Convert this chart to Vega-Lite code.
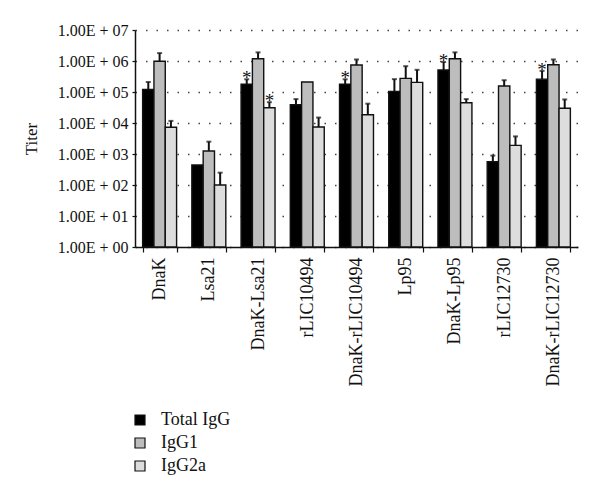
{
  "$schema": "https://vega.github.io/schema/vega-lite/v6.json",
  "width": 443,
  "height": 217,
  "autosize": {"type": "none"},
  "padding": {"left": 135, "top": 30, "right": 22, "bottom": 251},
  "background": "white",
  "config": {
    "font": "Liberation Serif",
    "view": {"stroke": null},
    "axis": {"labelFont": "Liberation Serif", "titleFont": "Liberation Serif", "labelColor": "#111", "titleColor": "#111", "domainColor": "#111", "tickColor": "#111"},
    "legend": {"labelFont": "Liberation Serif"}
  },
  "data": {
    "values": [
      {"antigen": "DnaK", "series": "Total IgG", "value": 120000, "upper": 210000, "sig": false},
      {"antigen": "DnaK", "series": "IgG1", "value": 980000, "upper": 1800000, "sig": false},
      {"antigen": "DnaK", "series": "IgG2a", "value": 7300, "upper": 11700, "sig": false},
      {"antigen": "Lsa21", "series": "Total IgG", "value": 440, "upper": null, "sig": false},
      {"antigen": "Lsa21", "series": "IgG1", "value": 1250, "upper": 2500, "sig": false},
      {"antigen": "Lsa21", "series": "IgG2a", "value": 100, "upper": 250, "sig": false},
      {"antigen": "DnaK-Lsa21", "series": "Total IgG", "value": 180000, "upper": 257000, "sig": true},
      {"antigen": "DnaK-Lsa21", "series": "IgG1", "value": 1180000, "upper": 1900000, "sig": false},
      {"antigen": "DnaK-Lsa21", "series": "IgG2a", "value": 31000, "upper": 47000, "sig": true},
      {"antigen": "rLIC10494", "series": "Total IgG", "value": 39000, "upper": 59000, "sig": false},
      {"antigen": "rLIC10494", "series": "IgG1", "value": 210000, "upper": null, "sig": false},
      {"antigen": "rLIC10494", "series": "IgG2a", "value": 7400, "upper": 15000, "sig": false},
      {"antigen": "DnaK-rLIC10494", "series": "Total IgG", "value": 180000, "upper": 257000, "sig": true},
      {"antigen": "DnaK-rLIC10494", "series": "IgG1", "value": 740000, "upper": 1120000, "sig": false},
      {"antigen": "DnaK-rLIC10494", "series": "IgG2a", "value": 18500, "upper": 42000, "sig": false},
      {"antigen": "Lp95", "series": "Total IgG", "value": 105000, "upper": 260000, "sig": false},
      {"antigen": "Lp95", "series": "IgG1", "value": 275000, "upper": 680000, "sig": false},
      {"antigen": "Lp95", "series": "IgG2a", "value": 205000, "upper": 520000, "sig": false},
      {"antigen": "DnaK-Lp95", "series": "Total IgG", "value": 510000, "upper": 930000, "sig": true},
      {"antigen": "DnaK-Lp95", "series": "IgG1", "value": 1180000, "upper": 1900000, "sig": false},
      {"antigen": "DnaK-Lp95", "series": "IgG2a", "value": 45000, "upper": 59000, "sig": false},
      {"antigen": "rLIC12730", "series": "Total IgG", "value": 560, "upper": 890, "sig": false},
      {"antigen": "rLIC12730", "series": "IgG1", "value": 156000, "upper": 240000, "sig": false},
      {"antigen": "rLIC12730", "series": "IgG2a", "value": 1900, "upper": 3700, "sig": false},
      {"antigen": "DnaK-rLIC12730", "series": "Total IgG", "value": 260000, "upper": 480000, "sig": true},
      {"antigen": "DnaK-rLIC12730", "series": "IgG1", "value": 760000, "upper": 1120000, "sig": false},
      {"antigen": "DnaK-rLIC12730", "series": "IgG2a", "value": 30000, "upper": 57500, "sig": false}
    ]
  },
  "encoding": {
    "x": {
      "field": "antigen", "type": "nominal", "sort": null,
      "scale": {"paddingInner": 0.31, "paddingOuter": 0.155},
      "axis": {"title": null, "labelAngle": 270, "labelFontSize": 18, "labelPadding": 5, "tickSize": 5, "tickBand": "extent", "domainWidth": 1.5, "tickWidth": 1.2, "grid": false}
    },
    "xOffset": {"field": "series", "type": "nominal", "sort": ["Total IgG", "IgG1", "IgG2a"], "scale": {"paddingInner": 0, "paddingOuter": 0}}
  },
  "layer": [
    {
      "mark": {"type": "bar", "stroke": "#111", "strokeWidth": 1.4},
      "encoding": {
        "y": {
          "field": "value", "type": "quantitative",
          "scale": {"type": "log", "domain": [1, 10000000], "nice": false},
          "axis": {
            "title": "Titer", "titleFontSize": 17, "titleFontWeight": "normal", "titlePadding": 17,
            "values": [1, 10, 100, 1000, 10000, 100000, 1000000, 10000000],
            "labelExpr": "'1.00E + 0' + round(log(datum.value) / LN10)",
            "labelFontSize": 16, "labelPadding": 4, "tickSize": 3, "tickWidth": 1.2, "domainWidth": 1.5,
            "grid": true, "gridDash": [1.5, 9], "gridColor": "#444", "gridWidth": 1.5
          }
        },
        "y2": {"datum": 1},
        "fill": {
          "field": "series", "type": "nominal",
          "scale": {"domain": ["Total IgG", "IgG1", "IgG2a"], "range": ["#000000", "#bdbdbd", "#dddddd"]},
          "legend": {
            "title": null, "orient": "none", "direction": "vertical", "legendX": -4, "legendY": 381,
            "symbolType": "square", "symbolSize": 100, "symbolStrokeColor": "#111", "symbolStrokeWidth": 1.2,
            "labelFontSize": 18, "labelColor": "#111", "labelOffset": 12, "rowPadding": 5
          }
        }
      }
    },
    {
      "transform": [{"filter": "datum.upper != null"}],
      "mark": {"type": "rule", "color": "#111", "strokeWidth": 2},
      "encoding": {
        "y": {"field": "value", "type": "quantitative"},
        "y2": {"field": "upper"}
      }
    },
    {
      "transform": [{"filter": "datum.upper != null"}],
      "mark": {"type": "tick", "color": "#111", "thickness": 2, "size": 5, "orient": "horizontal"},
      "encoding": {
        "y": {"field": "upper", "type": "quantitative"}
      }
    },
    {
      "transform": [{"filter": "datum.sig"}],
      "mark": {"type": "text", "text": "*", "fontSize": 19, "baseline": "alphabetic", "dy": 5, "color": "#111"},
      "encoding": {
        "y": {"field": "upper", "type": "quantitative"}
      }
    }
  ]
}
